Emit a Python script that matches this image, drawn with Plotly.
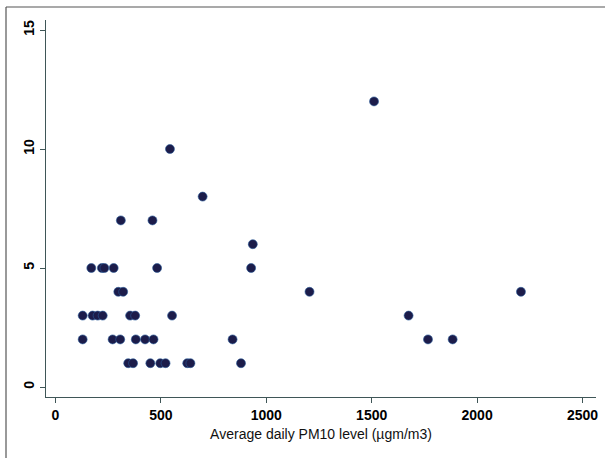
import plotly.graph_objects as go

# Average daily PM10 level (x) vs count (y)
pm10 = [1511, 543, 698, 310, 460, 936,
        170, 220, 232, 276, 482, 928,
        298, 321, 1205, 2208,
        129, 176, 200, 224, 354, 378, 553, 1675,
        129, 271, 307, 381, 425, 465, 840, 1767, 1884,
        345, 368, 450, 497, 522, 625, 640, 880]
counts = [12, 10, 8, 7, 7, 6,
          5, 5, 5, 5, 5, 5,
          4, 4, 4, 4,
          3, 3, 3, 3, 3, 3, 3, 3,
          2, 2, 2, 2, 2, 2, 2, 2, 2,
          1, 1, 1, 1, 1, 1, 1, 1]

x_ticks = [0, 500, 1000, 1500, 2000, 2500]
y_ticks = [0, 5, 10, 15]

axis_col = "#3f5657"
W, H = 605, 458
ml, mr, mt, mb = 46, 9, 20, 61
pw, ph = W - ml - mr, H - mt - mb

fig = go.Figure(go.Scatter(
    x=pm10, y=counts, mode="markers",
    marker=dict(size=9, color="#1c1c4a", line=dict(width=0.6, color="#2a5c9a")),
    showlegend=False,
))

fig.update_layout(
    width=W, height=H,
    margin=dict(l=ml, r=mr, t=mt, b=mb),
    paper_bgcolor="white", plot_bgcolor="white",
    font=dict(family="Liberation Sans, Arial", color="#000"),
    xaxis=dict(
        range=[-45, 2564], tickvals=x_ticks, showgrid=False, zeroline=False,
        showline=True, linecolor=axis_col, linewidth=1.2, automargin=False,
        ticks="outside", ticklen=5, tickcolor=axis_col,
        tickfont=dict(size=14, weight="bold"),
        title=dict(text="Average daily PM10 level (µgm/m3)", font=dict(size=14, color="#111"), standoff=7),
    ),
    yaxis=dict(
        range=[-0.42, 15.42], tickvals=y_ticks, showgrid=False, zeroline=False,
        showline=True, linecolor=axis_col, linewidth=1.2, automargin=False,
        ticks="outside", ticklen=5, tickcolor=axis_col,
        tickfont=dict(size=14, weight="bold"), tickangle=-90,
    ),
    shapes=[
        # border of the original figure (left and top edges only)
        dict(type="line", xref="paper", yref="paper",
             x0=(6 - ml) / pw, x1=(6 - ml) / pw, y0=-mb / ph, y1=1 + (mt - 7) / ph,
             line=dict(color="#555", width=1.2)),
        dict(type="line", xref="paper", yref="paper",
             x0=(6 - ml) / pw, x1=1 + mr / pw, y0=1 + (mt - 7) / ph, y1=1 + (mt - 7) / ph,
             line=dict(color="#555", width=1.2)),
    ],
)

# drop the browser's default page margin so the figure sits at (0, 0)
fig.write_html("out.html", config={"displayModeBar": False},
               post_script="document.body.style.margin='0';")
